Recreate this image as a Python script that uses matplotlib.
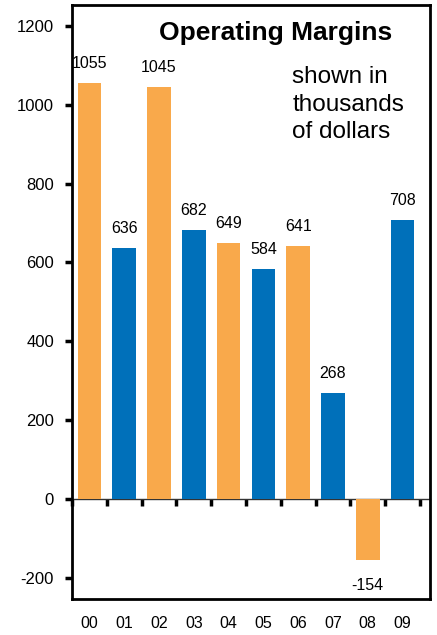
import numpy as np
import matplotlib
matplotlib.use('Agg')
import matplotlib.pyplot as plt

plt.rcParams['font.family'] = ['Liberation Sans', 'DejaVu Sans']
plt.rcParams['axes.unicode_minus'] = False

years = ['00', '01', '02', '03', '04', '05', '06', '07', '08', '09']
margins = [1055, 636, 1045, 682, 649, 584, 641, 268, -154, 708]
orange = '#F9A94B'
blue = '#0070BA'
bar_colors = [orange, blue] * 5

fig = plt.figure(figsize=(4.37, 6.35), dpi=100)
ax = fig.add_axes([0.1648, 0.0567, 0.8192, 0.9353])

x = np.arange(len(years))
ax.bar(x, margins, width=0.68, color=bar_colors, zorder=2)

ymin, ymax = -254, 1253
ax.set_ylim(ymin, ymax)
ax.set_xlim(-0.5, 9.79)

# value labels
for xi, v in zip(x, margins):
    if v >= 0:
        ax.annotate(str(v), (xi, v), xytext=(0, 8.5), textcoords='offset points',
                    ha='center', va='bottom', fontsize=11.5)
    else:
        ax.annotate(str(v), (xi, v), xytext=(0, -13), textcoords='offset points',
                    ha='center', va='top', fontsize=11.5)

# y axis
ax.set_yticks(np.arange(-200, 1201, 200))
ax.tick_params(axis='y', direction='out', length=5, width=2.5, labelsize=12, pad=8)

# x labels at the bottom, no tick marks
ax.set_xticks(x)
ax.set_xticklabels(years)
ax.tick_params(axis='x', length=0, labelsize=11.5, pad=12)

for s in ax.spines.values():
    s.set_linewidth(2)

# zero line with separator ticks
frac = (0 - ymin) / (ymax - ymin)
sec = ax.secondary_xaxis(frac)
sec.set_xticks(np.arange(-0.5, 10, 1.0))
sec.set_xticklabels([])
sec.tick_params(direction='out', length=5, width=2.5, color='black')
sec.spines['bottom'].set_linewidth(1)
sec.spines['bottom'].set_color('#333333')

ax.text(0.57, 0.973, 'Operating Margins', transform=ax.transAxes,
        ha='center', va='top', fontsize=19, fontweight='bold')
ax.text(0.615, 0.897, 'shown in\nthousands\nof dollars', transform=ax.transAxes,
        ha='left', va='top', fontsize=17.5, linespacing=1.33)

fig.savefig('out.png', dpi=100)
